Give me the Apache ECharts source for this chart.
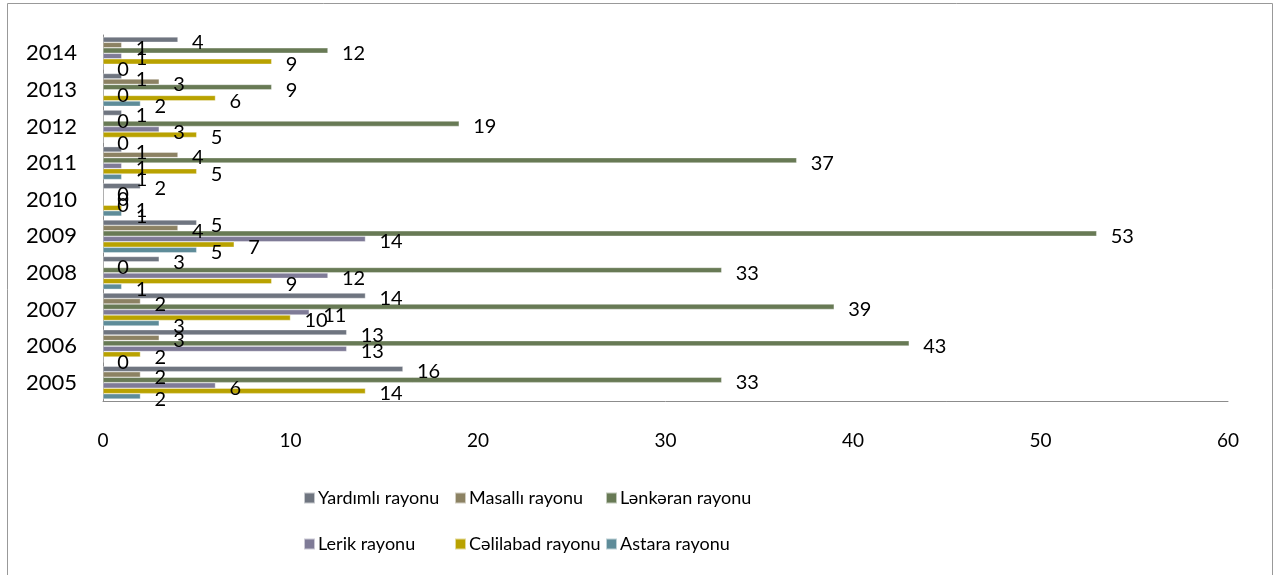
<!DOCTYPE html>
<html>
<head>
<meta charset="utf-8">
<script src="https://cdn.jsdelivr.net/npm/echarts@6/dist/echarts.min.js"></script>
<style>
    html, body { margin: 0; padding: 0; background: #fff; }
    #chart { width: 1274px; height: 575px; }
</style>
</head>
<body>
<div id="chart"></div>
<script>
const YEARS = ['2005', '2006', '2007', '2008', '2009', '2010', '2011', '2012', '2013', '2014'];
const X_TICKS = [0, 10, 20, 30, 40, 50, 60];

// values per district, 2005 -> 2014
const YARDIMLI = [16, 13, 14, 3, 5, 2, 1, 1, 1, 4];
const MASALLI = [2, 3, 2, 0, 4, 0, 4, 0, 3, 1];
const LANKARAN = [33, 43, 39, 33, 53, 0, 37, 19, 9, 12];
const LERIK = [6, 13, 11, 12, 14, 0, 1, 3, 0, 1];
const CALILABAD = [14, 2, 10, 9, 7, 1, 5, 5, 6, 9];
const ASTARA = [2, 0, 3, 1, 5, 1, 1, 0, 2, 0];

const FONT = 'Lato';

// series order = top -> bottom inside each year band (also legend order)
const SERIES = [
    {name: 'Yardımlı rayonu', data: YARDIMLI, color: '#6F7580'},
    {name: 'Masallı rayonu', data: MASALLI, color: '#8C8263'},
    {name: 'Lənkəran rayonu', data: LANKARAN, color: '#687A55'},
    {name: 'Lerik rayonu', data: LERIK, color: '#7F7B97'},
    {name: 'Cəlilabad rayonu', data: CALILABAD, color: '#B9A200'},
    {name: 'Astara rayonu', data: ASTARA, color: '#5E8C99'},
];

function initChart() {
    let chartDom = document.getElementById('chart');
    let myChart = echarts.init(chartDom);

    // two rows of three, fixed columns like the original
    let legendPos = [
        [298, 484], [449, 484], [600, 484],
        [298, 530], [449, 530], [600, 530],
    ];

    let option = {
        animation: false,
        textStyle: {fontFamily: FONT},
        graphic: [{
            type: 'rect',
            shape: {x: 7.5, y: 3.5, width: 1265, height: 600},
            style: {fill: 'none', stroke: '#999', lineWidth: 1},
            silent: true
        }],
        legend: SERIES.map((s, i) => ({
            data: [s.name],
            left: legendPos[i][0],
            top: legendPos[i][1],
            itemWidth: 11,
            itemHeight: 11,
            itemGap: 4,
            icon: 'rect',
            textStyle: {fontFamily: FONT, fontSize: 18, color: '#000', padding: [0, 0, 0, -2]}
        })),
        grid: {left: 103, right: 46, top: 35, bottom: 174},
        xAxis: {
            type: 'value',
            min: X_TICKS[0],
            max: X_TICKS[X_TICKS.length - 1],
            interval: 10,
            splitLine: {show: false},
            axisLine: {show: true, lineStyle: {color: '#8c8c8c', width: 1}},
            axisTick: {show: false},
            axisLabel: {margin: 30, fontSize: 19, color: '#000', fontFamily: FONT}
        },
        yAxis: {
            type: 'category',
            data: YEARS,
            axisLine: {lineStyle: {color: '#8c8c8c', width: 1}},
            axisTick: {show: false},
            axisLabel: {margin: 26, fontSize: 22, color: '#000', fontFamily: FONT}
        },
        series: SERIES.map(s => ({
            name: s.name,
            type: 'bar',
            data: s.data,
            barGap: '0%',
            barCategoryGap: '10%',
            itemStyle: {color: s.color, borderColor: 'rgba(255,255,255,0.6)', borderWidth: 0.6},
            label: {
                show: true,
                position: 'right',
                distance: 14,
                offset: [0, 3],
                fontSize: 20,
                color: '#000',
                fontFamily: FONT
            }
        }))
    };

    option && myChart.setOption(option);
}

initChart();
</script>
</body>
</html>
